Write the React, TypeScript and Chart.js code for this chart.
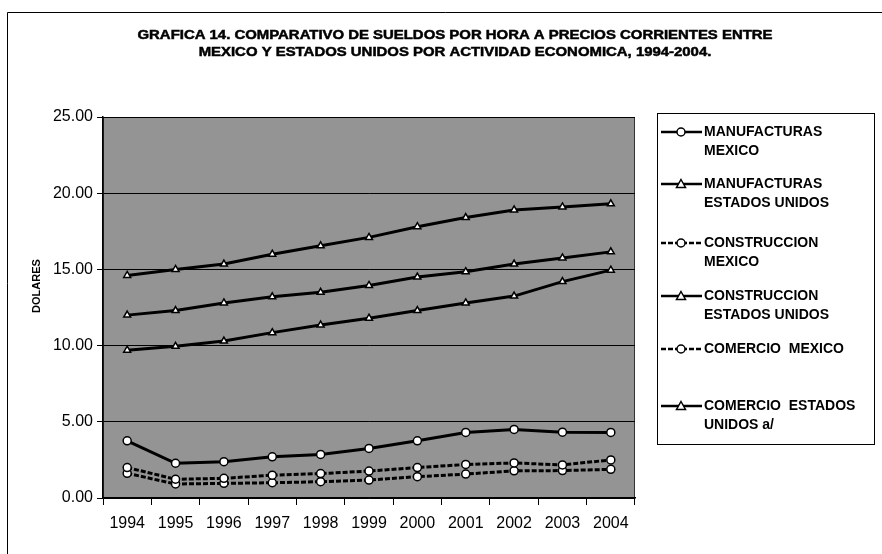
import React, { useEffect, useRef } from "react";
import { Chart, registerables } from "chart.js";

Chart.register(...registerables);

// Años del eje horizontal
const years = ["1994", "1995", "1996", "1997", "1998", "1999", "2000", "2001", "2002", "2003", "2004"];

// Sueldos por hora (dólares corrientes)
const manufacturasMexico = [3.75, 2.28, 2.38, 2.7, 2.86, 3.25, 3.75, 4.3, 4.5, 4.32, 4.3];
const manufacturasEU = [12.0, 12.3, 12.8, 13.2, 13.5, 13.95, 14.5, 14.85, 15.35, 15.75, 16.15];
const construccionMexico = [2.0, 1.23, 1.29, 1.5, 1.6, 1.77, 2.0, 2.2, 2.3, 2.17, 2.5];
const construccionEU = [14.6, 15.0, 15.35, 16.0, 16.55, 17.1, 17.8, 18.4, 18.9, 19.1, 19.3];
const comercioMexico = [1.62, 0.92, 0.96, 1.0, 1.07, 1.18, 1.4, 1.57, 1.78, 1.8, 1.88];
const comercioEU = [9.7, 9.95, 10.3, 10.85, 11.35, 11.8, 12.3, 12.8, 13.25, 14.2, 14.95];

const yTicks = [0, 5, 10, 15, 20, 25];

const titleLines = [
  "GRAFICA 14. COMPARATIVO DE SUELDOS POR HORA A PRECIOS CORRIENTES ENTRE",
  "MEXICO Y ESTADOS UNIDOS POR ACTIVIDAD ECONOMICA, 1994-2004.",
];
const yTitle = "DOLARES";

type SeriesDef = {
  label: string[];
  data: number[];
  marker: "circle" | "triangle";
  dash: number[];
};

const series: SeriesDef[] = [
  { label: ["MANUFACTURAS", "MEXICO"], data: manufacturasMexico, marker: "circle", dash: [] },
  { label: ["MANUFACTURAS", "ESTADOS UNIDOS"], data: manufacturasEU, marker: "triangle", dash: [] },
  { label: ["CONSTRUCCION", "MEXICO"], data: construccionMexico, marker: "circle", dash: [5, 2] },
  { label: ["CONSTRUCCION", "ESTADOS UNIDOS"], data: construccionEU, marker: "triangle", dash: [] },
  { label: ["COMERCIO  MEXICO"], data: comercioMexico, marker: "circle", dash: [5, 2] },
  { label: ["COMERCIO  ESTADOS", "UNIDOS a/"], data: comercioEU, marker: "triangle", dash: [] },
];

// Líneas de texto de cada entrada de la leyenda (posición vertical)
const legendRows = [[132, 151], [184, 203], [243, 262], [296, 315], [349], [406, 425]];

const FONT = '"Liberation Sans", Arial, sans-serif';

function drawMarker(ctx: CanvasRenderingContext2D, kind: string, x: number, y: number) {
  ctx.save();
  ctx.setLineDash([]);
  ctx.fillStyle = "#ffffff";
  ctx.strokeStyle = "#000000";
  ctx.lineWidth = 1.5;
  ctx.beginPath();
  if (kind === "circle") {
    ctx.arc(x, y, 4, 0, Math.PI * 2);
  } else {
    ctx.moveTo(x, y - 4.5);
    ctx.lineTo(x + 4.5, y + 3.5);
    ctx.lineTo(x - 4.5, y + 3.5);
    ctx.closePath();
  }
  ctx.fill();
  ctx.stroke();
  ctx.restore();
}

const decorPlugin = {
  id: "decor",
  beforeDraw(chart: any) {
    const { ctx, chartArea } = chart;
    ctx.save();
    // marco exterior
    ctx.strokeStyle = "#000";
    ctx.lineWidth = 1;
    ctx.beginPath();
    ctx.moveTo(7.5, 560);
    ctx.lineTo(7.5, 12.5);
    ctx.lineTo(890, 12.5);
    ctx.stroke();
    // fondo del área de trazado
    ctx.fillStyle = "#949494";
    ctx.fillRect(chartArea.left, chartArea.top, chartArea.right - chartArea.left, chartArea.bottom - chartArea.top);
    ctx.strokeStyle = "#333";
    ctx.strokeRect(chartArea.left + 0.5, chartArea.top + 0.5, chartArea.right - chartArea.left - 1, chartArea.bottom - chartArea.top - 1);
    ctx.restore();
  },
  afterDraw(chart: any) {
    const { ctx } = chart;
    ctx.save();
    ctx.fillStyle = "#000";
    ctx.strokeStyle = "#000";
    ctx.textBaseline = "middle";

    // título
    ctx.font = `bold 13px ${FONT}`;
    const w0 = ctx.measureText(titleLines[0]).width;
    const sx = 635 / w0;
    const titleY = [35, 52];
    titleLines.forEach((t, i) => {
      const w = ctx.measureText(t).width * sx;
      ctx.save();
      ctx.translate(455 - w / 2, titleY[i]);
      ctx.scale(sx, 1);
      ctx.textAlign = "left";
      ctx.lineWidth = 0.5;
      ctx.fillText(t, 0, 0);
      ctx.strokeText(t, 0, 0);
      ctx.restore();
    });

    // título del eje vertical
    ctx.save();
    ctx.translate(37, 286);
    ctx.rotate(-Math.PI / 2);
    ctx.font = `bold 11px ${FONT}`;
    ctx.textAlign = "center";
    ctx.fillText(yTitle, 0, 0);
    ctx.restore();

    // leyenda
    ctx.lineWidth = 1;
    ctx.strokeRect(657.5, 113.5, 217, 331);
    ctx.font = `bold 14px ${FONT}`;
    ctx.textAlign = "left";
    series.forEach((s, i) => {
      const rows = legendRows[i];
      const y = rows[0];
      ctx.save();
      ctx.strokeStyle = "#000";
      ctx.lineWidth = 2.5;
      ctx.setLineDash(s.dash);
      ctx.beginPath();
      ctx.moveTo(661, y);
      ctx.lineTo(702, y);
      ctx.stroke();
      ctx.restore();
      drawMarker(ctx, s.marker, 681, y);
      s.label.forEach((line, k) => {
        ctx.fillText(line, 704, rows[k]);
      });
    });
    ctx.restore();
  },
};

export default function App() {
  const canvasRef = useRef<HTMLCanvasElement | null>(null);

  useEffect(() => {
    const canvas = canvasRef.current;
    if (!canvas) return;
    const chart = new Chart(canvas, {
      type: "line",
      data: {
        labels: years,
        datasets: series.map((s) => ({
          label: s.label.join(" "),
          data: s.data,
          borderColor: "#000",
          borderWidth: 3,
          borderDash: s.dash,
          pointStyle: s.marker,
          pointRadius: 4,
          pointBackgroundColor: "#fff",
          pointBorderColor: "#000",
          pointBorderWidth: 1.5,
          tension: 0,
          fill: false,
        })),
      },
      options: {
        responsive: false,
        animation: false,
        devicePixelRatio: 1,
        layout: { padding: { left: 0, top: 117, right: 247, bottom: 0 } },
        plugins: {
          legend: { display: false },
          title: { display: false },
          tooltip: { enabled: false },
        },
        scales: {
          x: {
            type: "category",
            offset: true,
            grid: {
              display: true,
              offset: true,
              drawOnChartArea: false,
              drawTicks: true,
              tickLength: 7,
              color: "#000",
              lineWidth: 1,
            },
            border: { display: true, color: "#000", width: 1.5 },
            ticks: {
              color: "#000",
              font: { family: FONT, size: 16 },
              padding: 9,
              maxRotation: 0,
              autoSkip: false,
            },
            afterFit: (s: any) => {
              s.height = 56;
            },
          },
          y: {
            min: 0,
            max: 25,
            afterBuildTicks: (s: any) => {
              s.ticks = yTicks.map((v) => ({ value: v }));
            },
            grid: {
              color: "#000",
              lineWidth: 1,
              drawTicks: true,
              tickLength: 6,
            },
            border: { display: true, color: "#000", width: 1.5 },
            ticks: {
              color: "#000",
              font: { family: FONT, size: 16 },
              padding: 4,
              callback: (v: any) => Number(v).toFixed(2),
            },
            afterFit: (s: any) => {
              s.width = 103;
            },
          },
        },
      },
      plugins: [decorPlugin],
    });
    return () => chart.destroy();
  }, []);

  return (
    <div style={{ position: "absolute", left: 0, top: 0, width: 882, height: 554, background: "#fff" }}>
      <canvas ref={canvasRef} width={882} height={554} style={{ display: "block" }} />
    </div>
  );
}
